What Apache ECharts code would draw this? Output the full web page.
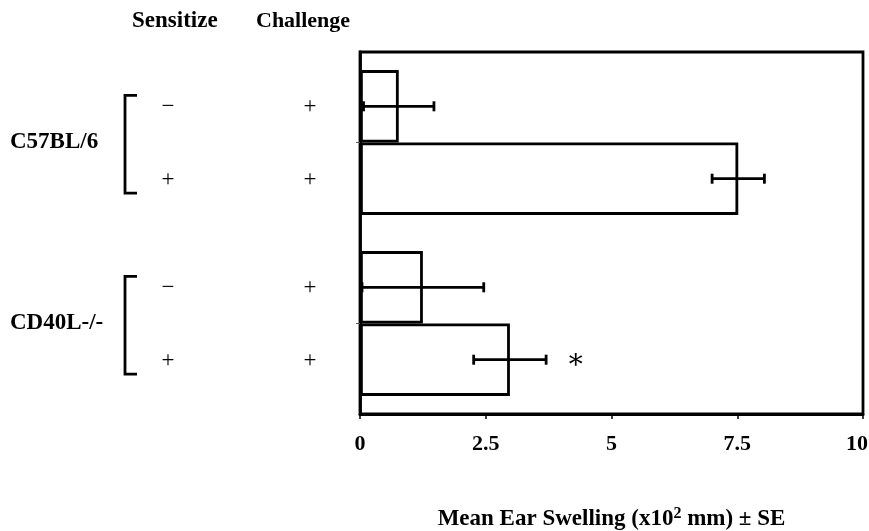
<!DOCTYPE html>
<html><head><meta charset="utf-8">
<script src="https://cdn.jsdelivr.net/npm/echarts/dist/echarts.min.js"></script>
<style>html,body{margin:0;padding:0;background:#fff}#c{width:869px;height:531px}</style>
</head><body><div id="c"></div>
<script>
// ---- data ----
const groups = ['C57BL/6', 'CD40L-/-'];
const sensNegMean = [0.77, 1.25];   // sensitize −, challenge +
const sensNegSE   = [0.70, 1.21];
const sensPosMean = [7.52, 2.98];   // sensitize +, challenge +
const sensPosSE   = [0.52, 0.72];
const sensitizeMarks = [['−', '+'], ['−', '+']];
const challengeMarks = [['+', '+'], ['+', '+']];
const significance   = [['', ''], ['', '∗']];
const headers = ['Sensitize', 'Challenge'];
const xMin = 0, xMax = 10, xStep = 2.5;

const SERIF = '"Liberation Serif","Times New Roman",serif';
const chart = echarts.init(document.getElementById('c'), null, {renderer: 'canvas'});

const ROW_OFF = 0.2; // bar centre offset as a fraction of the band

function errSeries(means, ses, sign, rowIdx) {
  return {
    type: 'custom',
    clip: false,
    z: 5,
    data: groups.map((g, i) => [means[i], i]),
    encode: {x: 0, y: 1},
    renderItem: function (params, api) {
      const i = params.dataIndex;
      const m = means[i], s = ses[i];
      const band = api.size([0, 1])[1];
      const c = api.coord([m, i]);
      const y = c[1] + sign * band * ROW_OFF;
      const lo = api.coord([Math.max(0, m - s), i])[0];
      const hi = api.coord([m + s, i])[0];
      const h = 5;
      const st = {stroke: '#000', lineWidth: 2.8};
      const kids = [
        {type: 'line', shape: {x1: lo, y1: y, x2: hi, y2: y}, style: st},
        {type: 'line', shape: {x1: lo, y1: y - h, x2: lo, y2: y + h}, style: st},
        {type: 'line', shape: {x1: hi, y1: y - h, x2: hi, y2: y + h}, style: st}
      ];
      const sig = significance[i][rowIdx];
      if (sig) {
        kids.push({type: 'text', style: {x: hi + 20, y: y + 1, text: sig, fill: '#000',
          font: '28px "DejaVu Serif",serif', align: 'left', verticalAlign: 'middle'}});
      }
      // row marks (sensitize / challenge)
      kids.push({type: 'text', style: {x: 168, y: y + 1, text: sensitizeMarks[i][rowIdx], fill: '#000',
        font: '23px ' + SERIF, align: 'center', verticalAlign: 'middle'}});
      kids.push({type: 'text', style: {x: 310, y: y + 1, text: challengeMarks[i][rowIdx], fill: '#000',
        font: '23px ' + SERIF, align: 'center', verticalAlign: 'middle'}});
      return {type: 'group', children: kids};
    }
  };
}

const bracketSeries = {
  type: 'custom',
  clip: false,
  data: groups.map((g, i) => [0, i]),
  encode: {x: 0, y: 1},
  renderItem: function (params, api) {
    const i = params.dataIndex;
    const band = api.size([0, 1])[1];
    const c = api.coord([0, i]);
    const t = c[1] - band * 0.26, b = c[1] + band * 0.28;
    return {type: 'polyline', shape: {points: [[137, t], [125, t], [125, b], [137, b]]},
      style: {stroke: '#000', lineWidth: 2.8, fill: null}};
  }
};

const option = {
  backgroundColor: '#fff',
  animation: false,
  grid: {left: 360, right: 6, top: 52, bottom: 117, show: true, borderColor: '#000', borderWidth: 2.8,
    backgroundColor: 'transparent', containLabel: false, outerBoundsMode: 'none'},
  xAxis: {
    type: 'value', min: xMin, max: xMax, interval: xStep,
    axisLine: {show: true, lineStyle: {color: '#000', width: 2.8}},
    axisTick: {show: true, length: 5, lineStyle: {color: '#000', width: 1.5}},
    splitLine: {show: false},
    axisLabel: {color: '#000', fontFamily: SERIF, fontWeight: 'bold', fontSize: 22, margin: 19,
      formatter: v => v === xMax ? '{last|' + v + '}' : String(v),
      rich: {last: {fontFamily: SERIF, fontWeight: 'bold', fontSize: 22, color: '#000', padding: [0, 12, 0, 0]}}},
    name: 'Mean Ear Swelling (x10{sup|2} mm) ± SE',
    nameLocation: 'middle', nameGap: 92,
    nameTextStyle: {color: '#000', fontFamily: SERIF, fontWeight: 'bold', fontSize: 23,
      rich: {sup: {fontFamily: SERIF, fontWeight: 'bold', fontSize: 16, verticalAlign: 'top', padding: [0, 0, 10, 0], color: '#000'}}}
  },
  yAxis: {
    type: 'category', data: groups, inverse: true,
    axisLine: {show: true, lineStyle: {color: '#000', width: 2.8}},
    axisTick: {show: true, alignWithLabel: true, length: 4, lineStyle: {color: '#555', width: 1}},
    axisLabel: {color: '#000', fontFamily: SERIF, fontWeight: 'bold', fontSize: 23, align: 'left', margin: 350,
      padding: [7, 0, 0, 0]}
  },
  graphic: [
    {type: 'text', left: 132, top: 10, style: {text: headers[0], fill: '#000', font: 'bold 23px ' + SERIF}},
    {type: 'text', left: 256, top: 10, style: {text: headers[1], fill: '#000', font: 'bold 22px ' + SERIF}}
  ],
  series: [
    {name: 'Sensitize −', type: 'bar', data: sensNegMean, barGap: '0%', barCategoryGap: '20%',
      itemStyle: {color: '#fff', borderColor: '#000', borderWidth: 2.8}},
    {name: 'Sensitize +', type: 'bar', data: sensPosMean, barGap: '0%', barCategoryGap: '20%',
      itemStyle: {color: '#fff', borderColor: '#000', borderWidth: 2.8}},
    errSeries(sensNegMean, sensNegSE, -1, 0),
    errSeries(sensPosMean, sensPosSE, 1, 1),
    bracketSeries
  ]
};
chart.setOption(option);
</script></body></html>
